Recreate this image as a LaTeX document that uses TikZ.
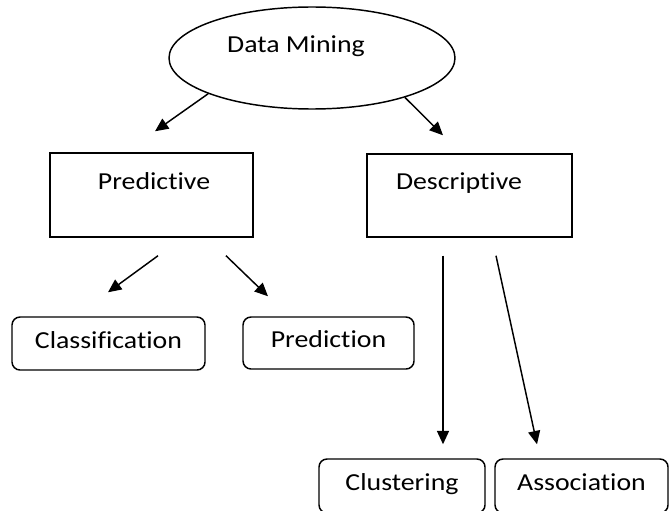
\documentclass[tikz,border=0pt]{standalone}
\usepackage{fontspec}
\setmainfont[FakeStretch=1.14, Ligatures=NoCommon]{Carlito}
\usetikzlibrary{shapes.geometric, arrows.meta}
\tikzstyle{top} = [ellipse, minimum width=214.5pt, minimum height=76.5pt, draw=black, line width=1.1pt]
\tikzstyle{grp} = [rectangle, draw=black, line width=1.1pt]
\tikzstyle{leaf} = [rectangle, rounded corners=6pt, draw=black, line width=1.1pt, text height=0.8em, text depth=0.1em]
\tikzstyle{lbl} = [anchor=base, inner sep=0pt]
\tikzstyle{arrow} = [line width=1.1pt, -{Triangle[length=10pt, width=9pt]}]

\begin{document}
\begin{tikzpicture}[x=0.75pt, y=-0.75pt, font=\fontsize{18.3}{22}\selectfont]
\useasboundingbox (0,0) rectangle (670,510);

\node (dm) [top] at (312,58) {};
\node (dmtext) [lbl] at (296,53) {Data Mining};

\node (pred) [grp, minimum width=152.25pt, minimum height=63pt] at (151.5,195) {};
\node (predtext) [lbl] at (154,189) {Predictive};
\node (desc) [grp, minimum width=153.75pt, minimum height=62.25pt] at (469.5,195.5) {};
\node (desctext) [lbl] at (459,189) {Descriptive};

\node (class) [leaf, minimum width=144.75pt, minimum height=39.75pt] at (108.5,343.5) {Classification};
\node (predn) [leaf, minimum width=128.25pt, minimum height=39pt] at (328.5,343) {Prediction};
\node (clus) [leaf, minimum width=124.5pt, minimum height=40.5pt] at (402,486) {Clustering};
\node (assoc) [leaf, minimum width=129.75pt, minimum height=40.5pt] at (581.5,486) {Association};

\draw [arrow] (dm.199) -- ([shift={(3.5,-21)}]pred.north);
\draw [arrow] (dm.337) -- ([shift={(-26.5,-18)}]desc.north);

\draw [arrow] ([shift={(6.5,18)}]pred.south) -- ([shift={(-0.5,-24)}]class.north);
\draw [arrow] ([shift={(74.5,18)}]pred.south) -- ([shift={(-60.5,-20)}]predn.north);

\draw [arrow] ([shift={(-26.5,18)}]desc.south) -- ([shift={(41,-14)}]clus.north);
\draw [arrow] ([shift={(26.5,18)}]desc.south) -- ([shift={(-44.5,-14)}]assoc.north);

\end{tikzpicture}
\end{document}
